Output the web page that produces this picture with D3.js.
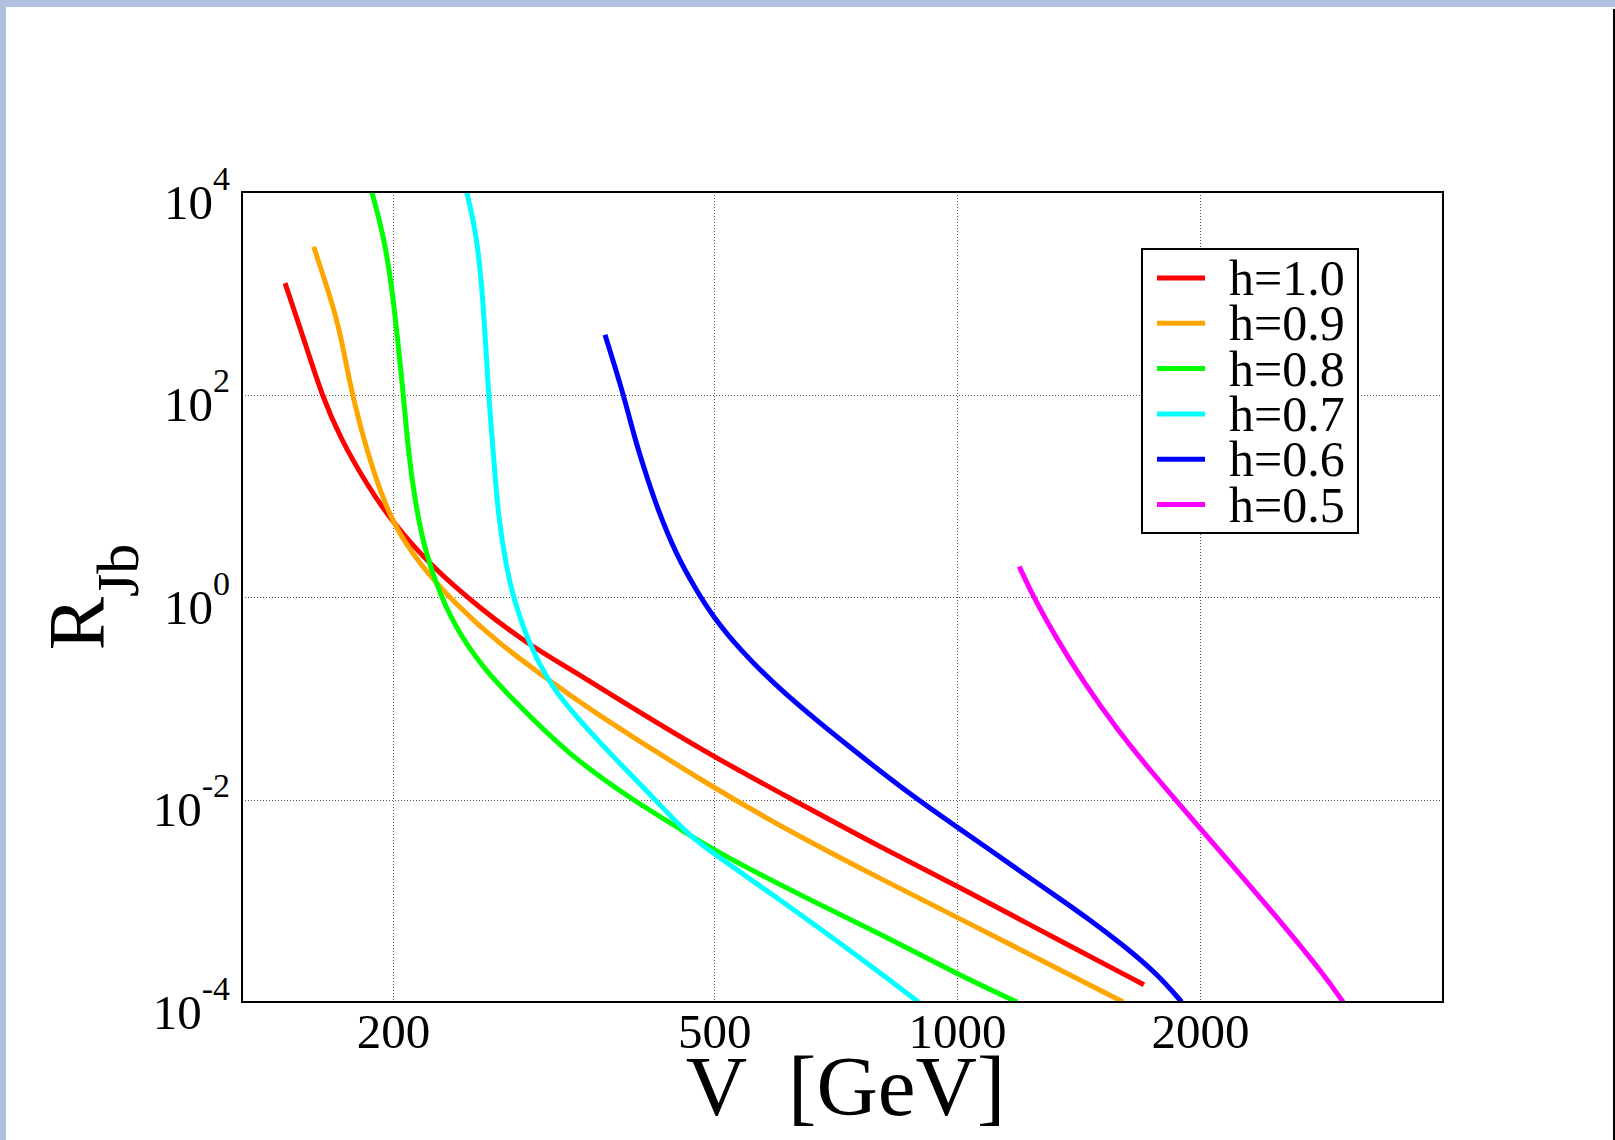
<!DOCTYPE html>
<html>
<head>
<meta charset="utf-8">
<script src="https://cdn.jsdelivr.net/npm/d3@7"></script>
<style>
  html, body { margin: 0; padding: 0; background: #fff; }
  svg { display: block; }
</style>
</head>
<body>
<div id="chart"></div>
<script>
// curves: [V in GeV, R_Jb]
const h10 = [[147, 1.26e3], [156.4, 2.87e2], [163.2, 1.0e2], [172, 3.72e1], [185.6, 1.29e1], [200, 5.37],
  [224.5, 1.91], [256.4, 7.76e-1], [293, 3.47e-1], [334.6, 1.86e-1], [375, 1.05e-1], [498.8, 2.63e-2],
  [638.8, 9.12e-3], [802.6, 3.39e-3], [1003.6, 1.38e-3], [1186, 6.76e-4], [1704, 1.48e-4]];
const h09 = [[159.5, 2.88e3], [167, 9.55e2], [172, 4.17e2], [177, 1.23e2], [182, 5.01e1], [189, 1.74e1],
  [200, 5.13], [216, 2.09], [237.6, 8.91e-1], [271.4, 3.39e-1], [310, 1.58e-1], [341, 8.91e-2],
  [498.8, 1.29e-2], [638.8, 4.27e-3], [802.6, 1.66e-3], [1003.6, 6.76e-4], [1606, 1.0e-4]];
const h08 = [[188.3, 1.0e4], [194.6, 3.8e3], [199.3, 1.2e3], [203, 3.09e2], [206, 1.0e2], [208.9, 2.75e1],
  [213, 8.71], [219.1, 2.82], [228.7, 1.05], [242.1, 4.17e-1], [261.2, 1.82e-1], [284.7, 8.91e-2],
  [328.2, 2.88e-2], [393.4, 1.02e-2], [462.4, 4.68e-3], [498.8, 3.16e-3], [651.2, 1.05e-3],
  [810.2, 4.57e-4], [1003.6, 1.86e-4], [1186.6, 1.0e-4]];
const h07 = [[246.8, 1.0e4], [254, 3.8e3], [258.8, 8.32e2], [262.6, 1.0e2], [266.2, 2.75e1], [270.1, 6.03],
  [276.6, 1.91], [281.8, 1.0], [294, 3.63e-1], [310, 1.58e-1], [328.2, 8.32e-2], [375, 2.63e-2],
  [412, 1.23e-2], [466.8, 4.27e-3], [498.8, 2.95e-3], [603.4, 1.02e-3], [737, 3.24e-4], [895.8, 1.0e-4]];
const h06 = [[366.2, 3.89e2], [385.8, 1.02e2], [397, 4.17e1], [408.6, 1.95e1], [424.4, 7.76], [449.4, 2.54],
  [475.8, 1.15], [498.8, 6.34e-1], [538.4, 3.0e-1], [603.4, 1.2e-1], [737, 3.24e-2], [891.4, 1.0e-2],
  [1003.6, 5.25e-3], [1098.8, 3.16e-3], [1208, 1.86e-3], [1329, 1.1e-3], [1461, 6.46e-4],
  [1607, 3.63e-4], [1768, 1.91e-4], [1898, 1.0e-4]];
const h05 = [[1194, 2.0], [1243, 1.0], [1329, 3.85e-1], [1434, 1.45e-1], [1577, 4.97e-2], [1734, 1.95e-2],
  [1880, 9.23e-3], [2019, 4.78e-3], [2262, 1.68e-3], [2537, 5.75e-4], [2844, 1.89e-4], [3008, 1.0e-4]];

const seriesNames = ["h=1.0", "h=0.9", "h=0.8", "h=0.7", "h=0.6", "h=0.5"];
const seriesColors = ["#ff0000", "#ffa500", "#00ff00", "#00ffff", "#0000ff", "#ff00ff"];
const seriesData = [h10, h09, h08, h07, h06, h05];

const xTicks = [200, 500, 1000, 2000];
const yTicks = [1e4, 1e2, 1e0, 1e-2, 1e-4];
const yGrid = [1e2, 1e0, 1e-2];
const xLabel = "V  [GeV]";

const FONT = '"Liberation Serif", "Times New Roman", serif';
const W = 1615, H = 1140;
const plot = {left: 242, top: 192, right: 1443, bottom: 1002};

const svg = d3.select("#chart").append("svg")
    .attr("width", W)
    .attr("height", H);

// page frame
svg.append("rect").attr("x", 0).attr("y", 0).attr("width", W).attr("height", H).attr("fill", "#fff");
svg.append("rect").attr("x", 0).attr("y", 0).attr("width", W).attr("height", 7).attr("fill", "#b0c0de");
svg.append("rect").attr("x", 0).attr("y", 0).attr("width", 6).attr("height", H).attr("fill", "#b0c0de");
svg.append("rect").attr("x", 1613).attr("y", 9).attr("width", 2).attr("height", H - 9).attr("fill", "#000");

let x = d3.scaleLog().domain([130, 4000]).range([plot.left, plot.right]);
let y = d3.scaleLog().domain([1e-4, 1e4]).range([plot.bottom, plot.top]);

// grid
let grid = svg.append("g")
    .attr("stroke", "#555")
    .attr("stroke-width", 1)
    .attr("stroke-dasharray", "1,2");

grid.selectAll(".vgrid")
    .data(xTicks)
    .enter()
    .append("line")
    .attr("x1", d => Math.round(x(d)) + 0.5)
    .attr("x2", d => Math.round(x(d)) + 0.5)
    .attr("y1", plot.top)
    .attr("y2", plot.bottom);

grid.selectAll(".hgrid")
    .data(yGrid)
    .enter()
    .append("line")
    .attr("y1", d => Math.round(y(d)) + 0.5)
    .attr("y2", d => Math.round(y(d)) + 0.5)
    .attr("x1", plot.left)
    .attr("x2", plot.right);

// curves
svg.append("defs")
    .append("clipPath")
    .attr("id", "plotBox")
    .append("rect")
    .attr("x", plot.left)
    .attr("y", plot.top)
    .attr("width", plot.right - plot.left)
    .attr("height", plot.bottom - plot.top);

let line = d3.line()
    .x(d => x(d[0]))
    .y(d => y(d[1]))
    .curve(d3.curveBasis);

svg.append("g")
    .attr("clip-path", "url(#plotBox)")
    .selectAll("path")
    .data(seriesData)
    .enter()
    .append("path")
    .attr("d", d => line(d))
    .attr("fill", "none")
    .attr("stroke", (d, i) => seriesColors[i])
    .attr("stroke-width", 5);

// frame
svg.append("rect")
    .attr("x", plot.left)
    .attr("y", plot.top)
    .attr("width", plot.right - plot.left)
    .attr("height", plot.bottom - plot.top)
    .attr("fill", "none")
    .attr("stroke", "#000")
    .attr("stroke-width", 2);

// x axis
let gx = svg.append("g")
    .attr("transform", "translate(0," + plot.bottom + ")")
    .call(d3.axisBottom(x).tickValues(xTicks).tickFormat(d3.format("d")).tickSize(0));
gx.select(".domain").remove();
gx.attr("font-family", FONT).attr("font-size", 49);
gx.selectAll(".tick text")
    .attr("y", 46)
    .attr("dy", null)
    .attr("fill", "#000");

// y axis with 10^n labels
let gy = svg.append("g")
    .attr("transform", "translate(" + plot.left + ",0)")
    .call(d3.axisLeft(y).tickValues(yTicks).tickFormat(() => "").tickSize(0));
gy.select(".domain").remove();
gy.attr("font-family", FONT).attr("font-size", 49);
gy.selectAll(".tick text")
    .attr("x", -12)
    .attr("y", 26)
    .attr("dy", null)
    .attr("fill", "#000")
    .each(function(d) {
        let t = d3.select(this);
        t.append("tspan").text("10");
        t.append("tspan")
            .attr("dy", -29)
            .attr("font-size", 34)
            .text(Math.round(Math.log10(d)));
    });

// axis titles
svg.append("text")
    .attr("x", (plot.left + plot.right) / 2 + 3)
    .attr("y", 1115)
    .attr("text-anchor", "middle")
    .attr("font-family", FONT)
    .attr("font-size", 85)
    .style("white-space", "pre")
    .text(xLabel);

let yt = svg.append("text")
    .attr("transform", "translate(104," + ((plot.top + plot.bottom) / 2) + ") rotate(-90)")
    .attr("text-anchor", "middle")
    .attr("font-family", FONT)
    .attr("font-size", 80);
yt.append("tspan").text("R");
yt.append("tspan").attr("dy", 34).attr("font-size", 60).text("Jb");

// legend
let legend = svg.append("g");
legend.append("rect")
    .attr("x", 1142)
    .attr("y", 249)
    .attr("width", 216)
    .attr("height", 284)
    .attr("fill", "#fff")
    .attr("stroke", "#000")
    .attr("stroke-width", 2);

let items = legend.selectAll(".item")
    .data(seriesNames)
    .enter()
    .append("g")
    .attr("transform", (d, i) => "translate(0," + (278 + i * 45.3) + ")");

items.append("line")
    .attr("x1", 1157)
    .attr("x2", 1205)
    .attr("stroke", (d, i) => seriesColors[i])
    .attr("stroke-width", 5);

items.append("text")
    .attr("x", 1229)
    .attr("y", 17)
    .attr("font-family", FONT)
    .attr("font-size", 50)
    .text(d => d);
</script>
</body>
</html>
